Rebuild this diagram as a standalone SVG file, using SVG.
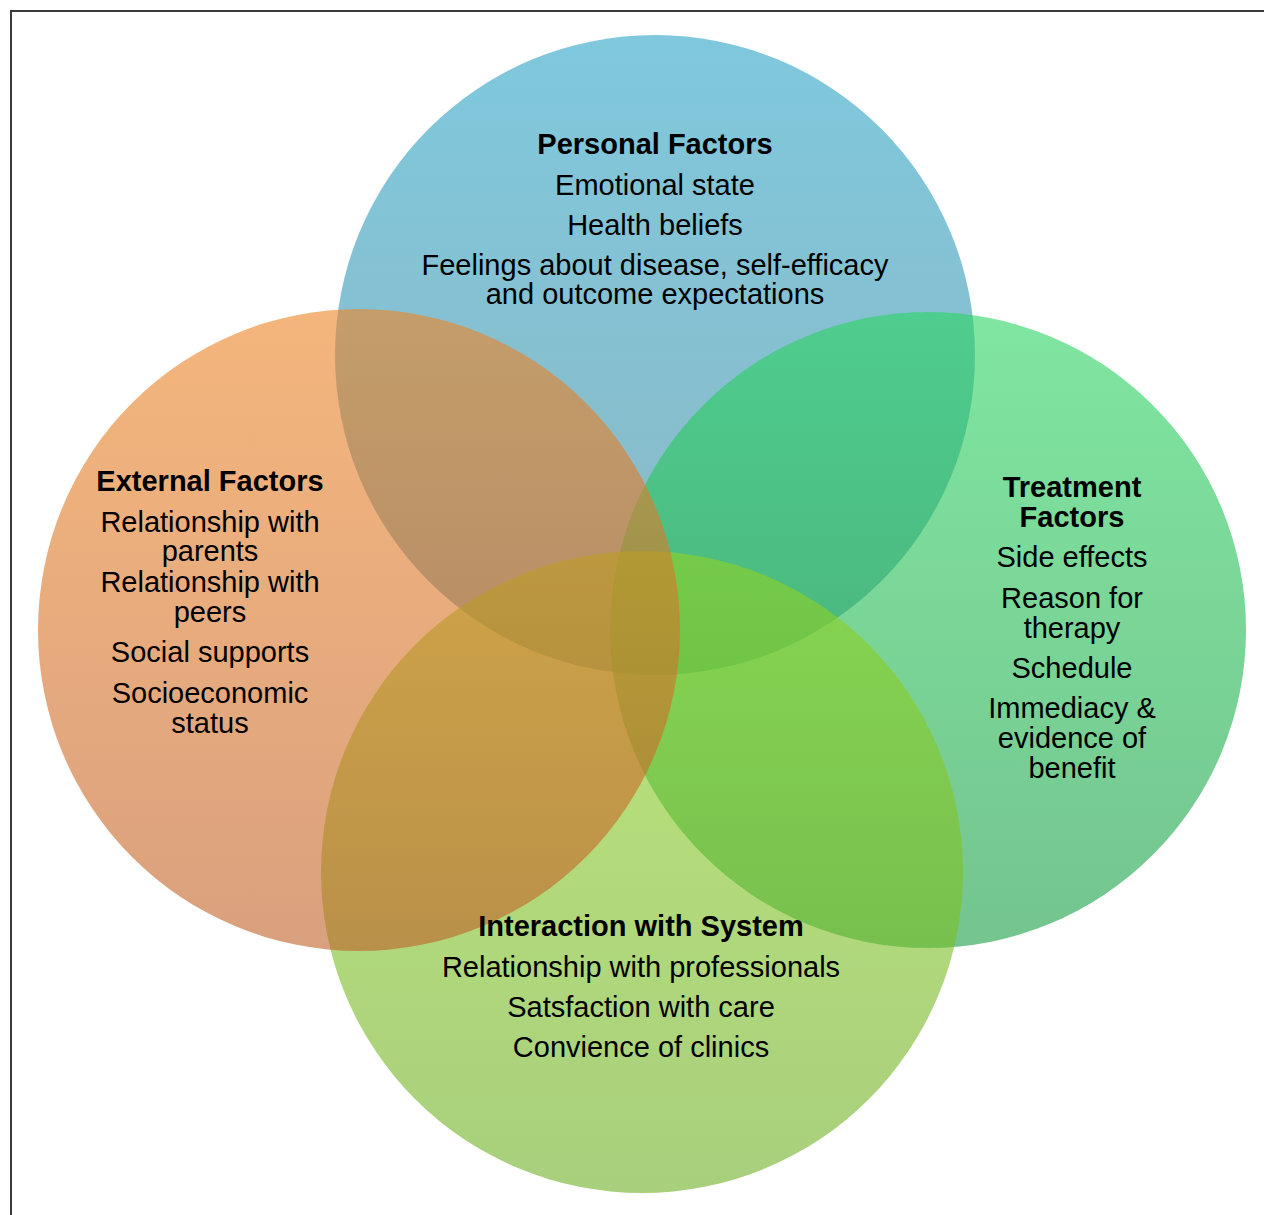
<svg xmlns="http://www.w3.org/2000/svg" width="1264" height="1215" viewBox="0 0 1264 1215">
<style>
text{font-family:"Liberation Sans",Arial,sans-serif;font-size:29px;fill:#000;text-anchor:middle}
.h{font-weight:bold}
.c{fill-opacity:0.6}
</style>
<defs>
<linearGradient id="gBlue" x1="0" y1="0" x2="0" y2="1"><stop offset="0" stop-color="#2aa3c6"/><stop offset="1" stop-color="#3f899d"/></linearGradient>
<linearGradient id="gOrange" x1="0" y1="0" x2="0" y2="1"><stop offset="0" stop-color="#ee8525"/><stop offset="1" stop-color="#c06128"/></linearGradient>
<linearGradient id="gGreen" x1="0" y1="0" x2="0" y2="1"><stop offset="0" stop-color="#2bd561"/><stop offset="1" stop-color="#179d43"/></linearGradient>
<linearGradient id="gLime" x1="0" y1="0" x2="0" y2="1"><stop offset="0" stop-color="#8fd421"/><stop offset="1" stop-color="#6eaf25"/></linearGradient>
</defs>
<rect width="1264" height="1215" fill="#fff"/>
<rect x="11" y="11" width="1262" height="1212" fill="none" stroke="#3a3a3a" stroke-width="2"/>
<g id="personal">
<circle class="c" cx="655" cy="355" r="320" fill="url(#gBlue)"/>
</g>
<g id="treatment">
<circle class="c" cx="928" cy="630" r="318" fill="url(#gGreen)"/>
</g>
<g id="interaction">
<circle class="c" cx="642" cy="872" r="321" fill="url(#gLime)"/>
</g>
<g id="external">
<circle class="c" cx="359" cy="630" r="321" fill="url(#gOrange)"/>
</g>
<g id="personal-text">
<text class="h" x="655" y="154">Personal Factors</text>
<text x="655" y="195">Emotional state</text>
<text x="655" y="235">Health beliefs</text>
<text x="655" y="275">Feelings about disease, self-efficacy</text>
<text x="655" y="304">and outcome expectations</text>
</g>
<g id="external-text">
<text class="h" x="210" y="491">External Factors</text>
<text x="210" y="532">Relationship with</text>
<text x="210" y="561">parents</text>
<text x="210" y="592">Relationship with</text>
<text x="210" y="622">peers</text>
<text x="210" y="662">Social supports</text>
<text x="210" y="703">Socioeconomic</text>
<text x="210" y="733">status</text>
</g>
<g id="treatment-text">
<text class="h" x="1072" y="497">Treatment</text>
<text class="h" x="1072" y="527">Factors</text>
<text x="1072" y="567">Side effects</text>
<text x="1072" y="608">Reason for</text>
<text x="1072" y="638">therapy</text>
<text x="1072" y="678">Schedule</text>
<text x="1072" y="718">Immediacy &amp;</text>
<text x="1072" y="748">evidence of</text>
<text x="1072" y="778">benefit</text>
</g>
<g id="interaction-text">
<text class="h" x="641" y="936">Interaction with System</text>
<text x="641" y="977">Relationship with professionals</text>
<text x="641" y="1017">Satsfaction with care</text>
<text x="641" y="1057">Convience of clinics</text>
</g>
</svg>
